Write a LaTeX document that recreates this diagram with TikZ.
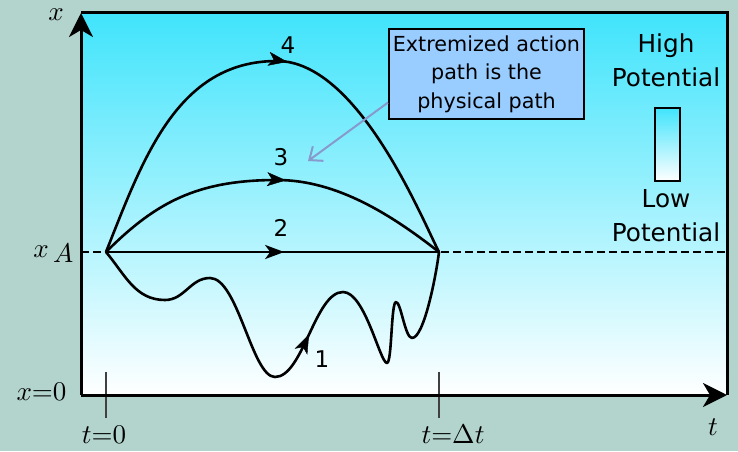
\documentclass[tikz,border=0pt]{standalone}
\usepackage{fontspec}
\setmainfont{DejaVu Sans}
\usetikzlibrary{arrows.meta,decorations.markings,calc}
\definecolor{bgc}{RGB}{178,212,204}
\definecolor{topc}{RGB}{64,228,252}
\definecolor{boxc}{RGB}{153,204,255}
\definecolor{hintc}{RGB}{136,153,204}
\begin{document}
\begin{tikzpicture}[x=1pt,y=1pt,
  pathline/.style={line width=2.6pt, line join=round},
  axisline/.style={line width=3pt},
  bigtip/.style={-{Stealth[length=24pt,width=24pt,inset=7pt]}},
  midarrow/.style={postaction={decorate},decoration={markings,
     mark=at position #1 with {\arrow{Stealth[length=19pt,width=14pt,inset=5pt]}}}},
  markarrow/.style={decoration={markings,
     mark=at position #1 with {\arrow{Stealth[length=19pt,width=14pt,inset=5pt]}}},decorate},
  ticklbl/.style={font=\normalsize, scale=2.7, inner sep=0pt},
  numlbl/.style={font=\fontsize{23}{28}\selectfont, inner sep=0pt},
  legend/.style={font=\fontsize{24.7}{34}\selectfont, align=center, inner sep=0pt},
  tickmark/.style={line width=1.4pt, draw=black!75},
  hint/.style={draw=hintc, line width=2pt, -{Straight Barb[length=11pt,width=18pt]}},
]
\fill[bgc] (0,0) rectangle (738,451);
\useasboundingbox (0,0) rectangle (738,451);
\shade[top color=topc, bottom color=white] (81,56) rectangle (727,438);

% coordinates
\coordinate (O) at (81,56);
\coordinate (Xtop) at (81,438);
\coordinate (TR) at (727,438);
\coordinate (Tend) at (727,56);
\coordinate (S) at (106,199);
\coordinate (E) at (439,199);
\coordinate (DL) at (81,199);
\coordinate (DR) at (727,199);
\coordinate (P4) at (277,390);
\coordinate (P3) at (277,271);
\coordinate (m1) at (165,151);
\coordinate (m2) at (210,173);
\coordinate (m3) at (275,74);
\coordinate (m4) at (343,159);
\coordinate (m5) at (387,88);
\coordinate (m6) at (396,149);
\coordinate (m7) at (412,113);

% dashed level line
\draw[line width=2pt, dash pattern=on 8pt off 4pt] (DL) -- (DR);

% ticks
\coordinate (t0a) at (106,79); \coordinate (t0b) at (106,33);
\coordinate (t1a) at (439,79); \coordinate (t1b) at (439,33);
\draw[tickmark] (t0a) -- (t0b);
\draw[tickmark] (t1a) -- (t1b);

% path 2
\draw[pathline, midarrow=0.535] (S) -- (E);
% path 4
\draw[pathline] (S) .. controls (143,292) and (177,390) .. (P4)
                   .. controls (358,390) and (422,232) .. (E);
\path[markarrow=0.04] (P4) .. controls (358,390) and (422,232) .. (E);
% path 3
\draw[pathline] (S) .. controls (155.5,248.5) and (197,271) .. (P3)
                   .. controls (337,271) and (391.7,236) .. (E);
\path[markarrow=0.05] (P3) .. controls (337,271) and (391.7,236) .. (E);
% path 1
\draw[pathline] (S) to[out=-50,in=180] (m1) to[out=0,in=180] (m2)
   .. controls (238,173) and (252,74) .. (m3)
   .. controls (303,74) and (315,159) .. (m4)
   .. controls (365,159) and (380,88) .. (m5)
   .. controls (392,88) and (391,149) .. (m6)
   .. controls (401,149) and (405,113) .. (m7)
   .. controls (424,113) and (436,175) .. (E);
\path[markarrow=0.5] (m3) .. controls (303,74) and (315,159) .. (m4);

% axes and frame
\draw[axisline] (Xtop) -- (TR) -- (Tend);
\draw[axisline, bigtip] (O) -- (Xtop);
\draw[axisline, bigtip] (O) -- (Tend);

% math labels
\node[ticklbl] (lx) at (56,436) {$x$};
\node[ticklbl, anchor=base east] (lxa) at (74,194) {$x$\,\raisebox{-2pt}{$A$}};
\node[ticklbl, anchor=base east] (lx0) at (67,51) {$x{=}0$};
\node[ticklbl, anchor=base] (lt0) at (104,8) {$t{=}0$};
\node[ticklbl, anchor=base] (lt1) at (453,8) {$t{=}\Delta t$};
\node[ticklbl, anchor=base] (lt) at (713,16) {$t$};

% path numbers
\node[numlbl] (n4) at (288,406) {4};
\node[numlbl] (n3) at (281,294) {3};
\node[numlbl] (n2) at (281,223) {2};
\node[numlbl] (n1) at (322,92) {1};

% callout box
\node[draw, line width=2pt, fill=boxc, align=center, minimum width=195pt,
      minimum height=90pt, inner sep=0pt,
      font=\fontsize{20.7}{28.5}\selectfont] (box) at (486.5,377)
      {Extremized action\\path is the\\physical path};
\coordinate (tg) at (308,290);
\draw[hint] ($(box.south west)!0.19!(box.north west)$) -- (tg);

% legend
\node[legend] (hi) at (666,391) {High\\Potential};
\node[draw, line width=2pt, top color=topc, bottom color=white,
      minimum width=25pt, minimum height=73pt, inner sep=0pt] (bar) at (667.5,306.5) {};
\node[legend] (lo) at (666,235.5) {Low\\Potential};
\end{tikzpicture}
\end{document}
